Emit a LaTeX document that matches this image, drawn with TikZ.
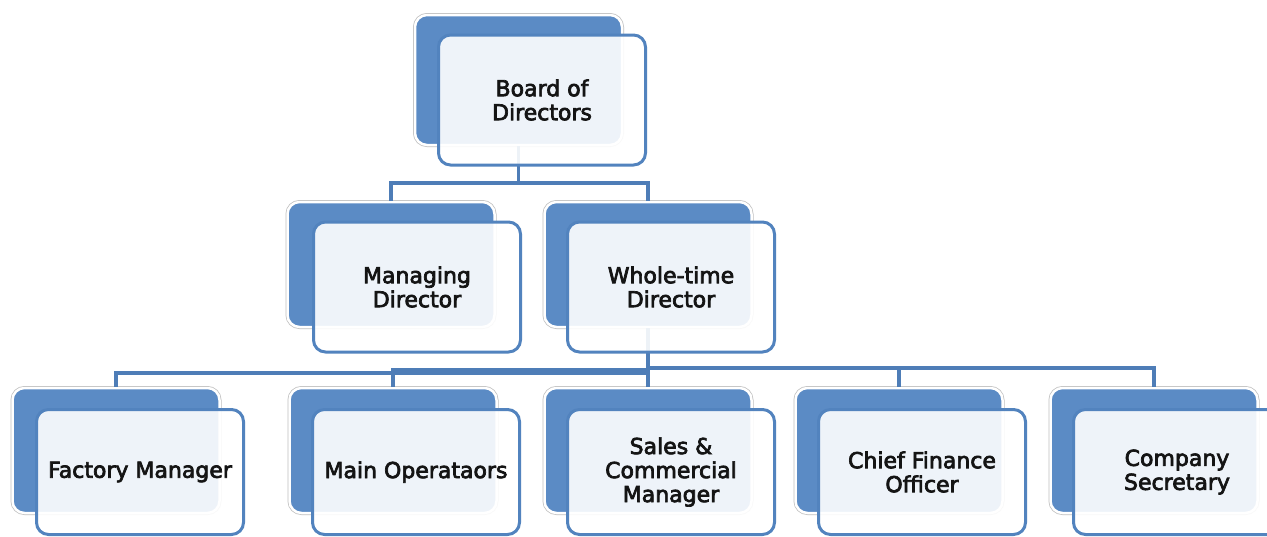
\documentclass[tikz,border=0pt]{standalone}
\usepackage{fontspec}
\newfontfamily\boxfont{DejaVu Sans}[FakeBold=3.2]
\definecolor{backblue}{HTML}{5B8BC5}
\definecolor{edgeblue}{HTML}{5283BE}
\definecolor{linkblue}{HTML}{4E7DB7}
\begin{document}
\begin{tikzpicture}[x=1pt,y=-1pt,
  backbox/.style={rectangle, rounded corners=12pt, fill=backblue, draw=white, line width=2.5pt,
    minimum width=207pt, minimum height=125pt, inner sep=0pt,
    preaction={draw=black!25, line width=4pt}},
  frontbox/.style={rectangle, rounded corners=12pt, draw=edgeblue, line width=3pt,
    fill=white, fill opacity=0.9, text opacity=1, text=black!92,
    minimum width=207pt, minimum height=125pt, inner sep=0pt, align=center,
    font=\boxfont\fontsize{22}{24}\selectfont},
  link/.style={draw=linkblue, line width=3.5pt}]
\useasboundingbox[fill=white] (0,0) rectangle (1267,536);

% back boxes
\node[backbox, minimum height=130pt] (b-bod) at (518.5,80) {};
\node[backbox] (b-md)  at (391,264.5) {};
\node[backbox] (b-wtd) at (648,264.5) {};
\node[backbox] (b-fm)  at (116,450.5) {};
\node[backbox] (b-mo)  at (393,450.5) {};
\node[backbox] (b-scm) at (648,450.5) {};
\node[backbox] (b-cfo) at (899,450.5) {};
\node[backbox] (b-cs)  at (1154,450.5) {};

% connectors
\draw[link] (b-bod.south) -- (b-bod.south |- 0,183) -| (b-md.north);
\draw[link] (b-bod.south) -- (b-bod.south |- 0,183) -| (b-wtd.north);
\draw[link] (b-wtd.south) -- (b-wtd.south |- 0,373) -| (b-fm.north);
\draw[link] (b-wtd.south) -- (b-wtd.south |- 0,370) -| (b-mo.north);
\draw[link] (b-wtd.south) -- (b-scm.north);
\draw[link] (b-wtd.south) -- (b-wtd.south |- 0,368) -| (b-cfo.north);
\draw[link] (b-wtd.south) -- (b-wtd.south |- 0,368) -| (b-cs.north);

% front boxes
\node[frontbox, minimum height=130pt] (bod) at (542,100) {Board of\\Directors};
\node[frontbox, minimum height=130pt] (md)  at (417,287) {Managing\\Director};
\node[frontbox, minimum height=130pt] (wtd) at (671,287) {Whole-time\\Director};
\node[frontbox] (fm)  at (140,472) {Factory Manager};
\node[frontbox] (mo)  at (416,472) {Main Operataors};
\node[frontbox] (scm) at (671,472) {Sales \&\\Commercial\\Manager};
\node[frontbox] (cfo) at (922,472) {Chief Finance\\Officer};
\node[frontbox] (cs)  at (1177,472) {Company\\Secretary};
\end{tikzpicture}
\end{document}
